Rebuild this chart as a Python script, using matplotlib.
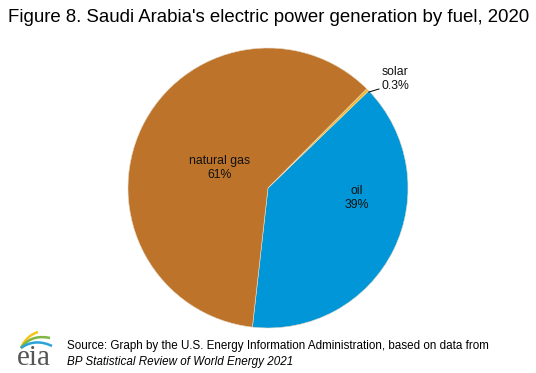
import matplotlib
matplotlib.use("Agg")
import matplotlib.pyplot as plt
import numpy as np

plt.rcParams['font.family'] = ['Liberation Sans', 'DejaVu Sans']

categories = ["oil", "natural gas", "solar"]
shares = [39.0, 60.7, 0.3]
labels = ["oil\n39%", "natural gas\n61%", "solar\n0.3%"]
colors = ["#0096D7", "#BD732A", "#F5B620"]

W, H = 536, 373
fig = plt.figure(figsize=(W / 100, H / 100), dpi=100)

cx, cy, r = 268, 188, 140
ax = fig.add_axes([(cx - r) / W, (H - cy - r) / H, 2 * r / W, 2 * r / H])
wedges, _ = ax.pie(shares, colors=colors, startangle=44, counterclock=False,
                   wedgeprops=dict(edgecolor="#e8d9c4", linewidth=0.4))
ax.set_xlim(-1, 1)
ax.set_ylim(-1, 1)
ax.set_aspect("equal")
ax.axis("off")

def p2d(px, py):
    return (px - cx) / r, (cy - py) / r

fs = 8.8
ax.text(*p2d(357, 198), labels[0], ha="center", va="center", fontsize=fs, color="#111111", linespacing=1.2)
ax.text(*p2d(220, 168), labels[1], ha="center", va="center", fontsize=fs, color="#111111", linespacing=1.2)
ax.text(*p2d(395, 79), labels[2], ha="center", va="center", fontsize=fs, color="#111111", linespacing=1.2)
x0, y0 = p2d(369, 92)
x1, y1 = p2d(379, 89)
ax.plot([x0, x1], [y0, y1], color="black", lw=0.7, clip_on=False)

fig.text(8 / W, 1 - 17 / H, "Figure 8. Saudi Arabia's electric power generation by fuel, 2020",
         ha="left", va="center", fontsize=13.4, color="black")

fig.text(67 / W, 1 - 346 / H, "Source: Graph by the U.S. Energy Information Administration, based on data from",
         ha="left", va="center", fontsize=8.4, color="black")
fig.text(67 / W, 1 - 362 / H, "BP Statistical Review of World Energy 2021",
         ha="left", va="center", fontsize=8.4, color="black", style="italic")

# eia logo, drawn in pixel coordinates of the figure (y downward)
lax = fig.add_axes([0, 0, 70 / W, 50 / H])
lax.set_xlim(0, 70)
lax.set_ylim(373, 323)
lax.axis("off")
lax.text(34, 365, "eia", ha="center", va="baseline", fontsize=21, color="#555555",
         family=["Liberation Serif", "DejaVu Serif"], clip_on=False)
t = np.linspace(0, 1, 30)[:, None]
start = np.array([21.0, 348.0])
for c, ctrl, end in [("#F5C518", (26, 336), (38, 332)),
                     ("#7DB643", (31, 334), (50, 338)),
                     ("#2BA3D9", (35, 338), (52, 346))]:
    p1 = np.array(ctrl, float)
    p2 = np.array(end, float)
    pts = (1 - t) ** 2 * start + 2 * (1 - t) * t * p1 + t ** 2 * p2
    lax.plot(pts[:, 0], pts[:, 1], color=c, lw=1.8, solid_capstyle="butt")

fig.savefig("out.png", dpi=100, facecolor="white")
